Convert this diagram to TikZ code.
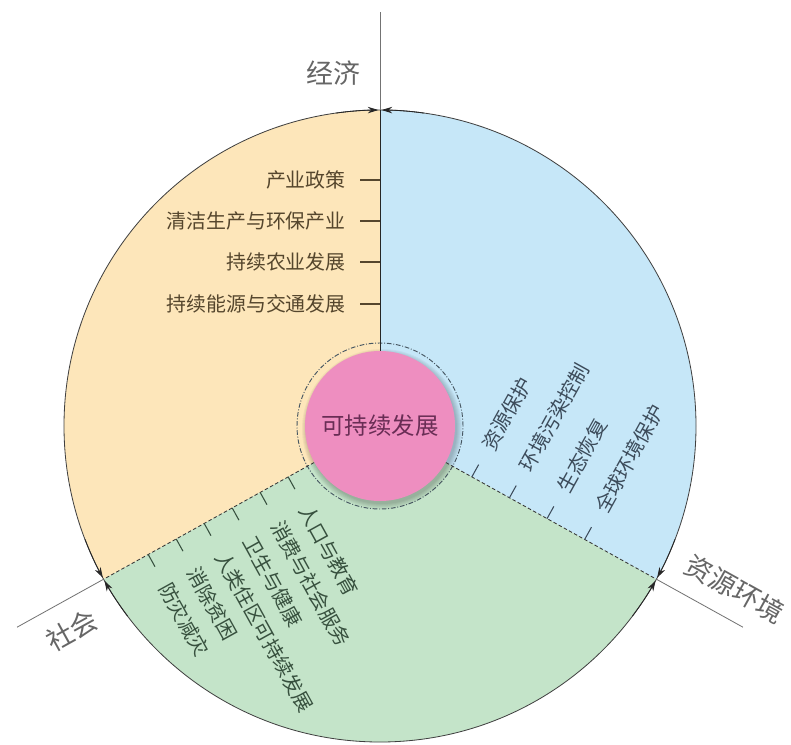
\documentclass[tikz,border=0pt]{standalone}
\usepackage{fontspec}
\setmainfont{Noto Sans CJK SC}
\usetikzlibrary{arrows.meta,calc}

\definecolor{naranja}{RGB}{253,230,186}
\definecolor{celeste}{RGB}{198,231,248}
\definecolor{verde}{RGB}{196,228,201}
\definecolor{rosa}{RGB}{238,142,192}
\definecolor{textorosa}{RGB}{105,45,85}
\definecolor{textoeco}{RGB}{85,70,45}
\definecolor{textorec}{RGB}{60,75,90}
\definecolor{textosoc}{RGB}{55,80,62}

\begin{document}
\begin{tikzpicture}[x=0.03cm,y=0.03cm,line width=0.7pt,>={Stealth[length=9pt,width=5.5pt]},
  etiq/.style={font=\fontsize{17}{20}\selectfont},
  titulo/.style={font=\fontsize{23}{26}\selectfont,text=black!60},
  marca/.style={line width=0.9pt}]
  \def\R{316}
  \useasboundingbox (-380,-318) rectangle (411,426);
  % sectores
  \fill[celeste] (0,0) -- (90:\R) arc[start angle=90,end angle=-29,radius=\R] -- cycle;
  \fill[naranja] (0,0) -- (90:\R) arc[start angle=90,end angle=209,radius=\R] -- cycle;
  \fill[verde] (0,0) -- (209:\R) arc[start angle=209,end angle=331,radius=\R] -- cycle;
  \draw[black!75] (0,0) circle (\R);
  % flechas sobre el borde
  \foreach \a in {90,-29,209} {
    \draw[->,black!85] (\a+8:\R) arc[start angle=\a+8,end angle=\a+0.3,radius=\R];
    \draw[->,black!85] (\a-8:\R) arc[start angle=\a-8,end angle=\a-0.3,radius=\R];
  }
  % centro
  \draw[black!70!cyan,line width=0.8pt,dash pattern=on 4pt off 1.5pt on 0.8pt off 1.5pt] (0,0) circle (83);
  \foreach \k in {1,...,6} \fill[black,opacity=0.04] (2,-3) circle (74+\k);
  \node[circle,fill=rosa,minimum size=4.5cm,inner sep=0pt,text=textorosa,
    font=\fontsize{20}{24}\selectfont] (centro) at (0,0) {可持续发展};
  % ejes
  \coordinate (eco) at (90:\R);   \coordinate (eco2) at (90:414);
  \coordinate (rec) at (-29:\R);  \coordinate (rec2) at (-29:415);
  \coordinate (soc) at (209:\R);  \coordinate (soc2) at (209:415);
  \draw[black!85] (centro.90) -- (eco);
  \draw[black!80,densely dashed] (centro.-29) -- (rec);
  \draw[black!80,densely dashed] (centro.209) -- (soc);
  \draw[black!55] (eco) -- (eco2);
  \draw[black!55] (rec) -- (rec2);
  \draw[black!55] (soc) -- (soc2);
  \node[titulo] (teco) at (-47,353) {经济};
  \node[titulo,rotate=-29] (trec) at (355,-163) {资源环境};
  \node[titulo,rotate=29] (tsoc) at (-308,-204) {社会};
  % etiquetas: economia
  \foreach \y/\t [count=\i] in {246/产业政策,205/清洁生产与环保产业,164/持续农业发展,122/持续能源与交通发展} {
    \draw[marca,textoeco] (-20,\y) -- (0,\y);
    \node[etiq,anchor=east,text=textoeco] (e\i) at (-30,\y) {\t};
  }
  % etiquetas: recursos
  \foreach \d/\t [count=\i] in {105/资源保护,148/环境污染控制,191/生态恢复,234/全球环境保护} {
    \draw[marca,textorec] (-29:\d) -- ++(61:14);
    \node[etiq,rotate=61,anchor=west,text=textorec] (r\i) at ($(-29:\d)+(61:28)$) {\t};
  }
  % etiquetas: sociedad
  \foreach \d/\t [count=\i] in {105/人口与教育,137/消费与社会服务,169/卫生与健康,201/人类住区可持续发展,233/消除贫困,265/防灾减灾} {
    \draw[marca,textosoc] (209:\d) -- ++(-61:14);
    \node[etiq,rotate=-61,anchor=west,text=textosoc] (s\i) at ($(209:\d)+(-61:30)$) {\t};
  }
\end{tikzpicture}
\end{document}
